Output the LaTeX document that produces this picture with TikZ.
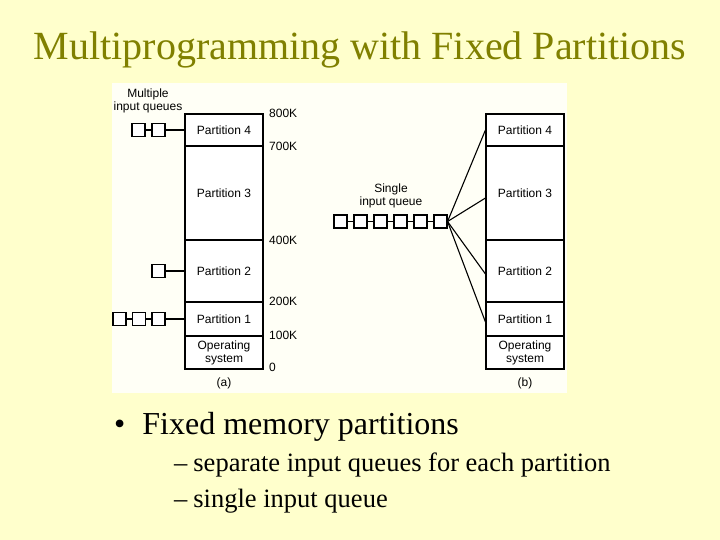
\documentclass[tikz,border=0pt]{standalone}
\usepackage{fontspec}
\setmainfont{Liberation Serif}
\newfontfamily\diagfont{Liberation Sans}
\definecolor{slidebg}{HTML}{FFFFCC}
\definecolor{panelbg}{HTML}{FFFFF6}
\definecolor{titlecol}{HTML}{808000}
\begin{document}
\begin{tikzpicture}[x=1bp,y=-1bp,
  part/.style={draw=black, line width=1.1bp, minimum width=78bp, inner sep=0pt, font=\diagfont\fontsize{12bp}{13bp}\selectfont, align=center, fill=white},
  qbox/.style={draw=black, line width=1.1bp, minimum width=13bp, minimum height=13bp, inner sep=0pt, fill=white},
  conn/.style={draw=black, line width=1.1bp},
  lbl/.style={font=\diagfont\fontsize{12bp}{13.5bp}\selectfont, inner sep=0pt, align=center},
  klbl/.style={lbl, anchor=west}]
\useasboundingbox (0,0) rectangle (720,540);
\fill[slidebg] (0,0) rectangle (720,540);
\fill[panelbg] (112,83) rectangle (567,393);
% title
\node[anchor=base, text=titlecol, font=\fontsize{40bp}{48bp}\selectfont, inner sep=0pt] (title) at (360,60) {Multiprogramming with Fixed Partitions};
% bullets
\node[anchor=base west, font=\fontsize{32bp}{38bp}\selectfont, inner sep=0pt] (b1) at (114,434) {\textbullet\hspace{17bp}Fixed memory partitions};
\node[anchor=base west, font=\fontsize{26.5bp}{32bp}\selectfont, inner sep=0pt] (s1) at (174,471) {--\hspace{6bp}separate input queues for each partition};
\node[anchor=base west, font=\fontsize{26.5bp}{32bp}\selectfont, inner sep=0pt] (s2) at (174,507) {--\hspace{6bp}single input queue};
% left memory (a)
\node[part, minimum height=32bp] (a4) at (224,130) {Partition 4};
\node[part, minimum height=94bp] (a3) at (224,193) {Partition 3};
\node[part, minimum height=62bp] (a2) at (224,271) {Partition 2};
\node[part, minimum height=34bp] (a1) at (224,319) {Partition 1};
\node[part, minimum height=33bp] (a0) at (224,352.5) {Operating\\system};
\node[klbl] (k800) at (269,113) {800K};
\node[klbl] (k700) at (269,146) {700K};
\node[klbl] (k400) at (269,240) {400K};
\node[klbl] (k200) at (269,301) {200K};
\node[klbl] (k100) at (269,335) {100K};
\node[klbl] (k0) at (269,367) {0};
\node[lbl] (mq) at (148,101) {Multiple\\input queues};
\node[lbl] (la) at (224,383) {(a)};
% left queues
\node[qbox] (p4q1) at (138.5,130) {};
\node[qbox] (p4q2) at (158.5,130) {};
\draw[conn] (p4q1) -- (p4q2);
\draw[conn] (p4q2) -- (a4);
\node[qbox] (p2q1) at (158.5,271) {};
\draw[conn] (p2q1) -- (a2);
\node[qbox] (p1q1) at (119.5,319) {};
\node[qbox] (p1q2) at (139,319) {};
\node[qbox] (p1q3) at (158.5,319) {};
\draw[conn] (p1q1) -- (p1q2);
\draw[conn] (p1q2) -- (p1q3);
\draw[conn] (p1q3) -- (a1);
% right memory (b)
\node[part, minimum height=32bp] (r4) at (525,130) {Partition 4};
\node[part, minimum height=94bp] (r3) at (525,193) {Partition 3};
\node[part, minimum height=62bp] (r2) at (525,271) {Partition 2};
\node[part, minimum height=34bp] (r1) at (525,319) {Partition 1};
\node[part, minimum height=33bp] (r0) at (525,352.5) {Operating\\system};
\node[lbl] (lb) at (525,383) {(b)};
\node[lbl] (sq) at (391,196) {Single\\input queue};
% single queue
\foreach \i/\xx in {1/340.5,2/360.5,3/380.5,4/400.5,5/420.5,6/440.5}
  \node[qbox] (sq\i) at (\xx,221.5) {};
\foreach \i/\j in {1/2,2/3,3/4,4/5,5/6}
  \draw[conn] (sq\i) -- (sq\j);
\draw[conn] (sq6.east) -- (r4.west);
\draw[conn] (sq6.east) -- ([yshift=-5bp]r3.west);
\draw[conn] (sq6.east) -- ([yshift=-3bp]r2.west);
\draw[conn] (sq6.east) -- ([yshift=-3bp]r1.west);
\end{tikzpicture}
\end{document}
